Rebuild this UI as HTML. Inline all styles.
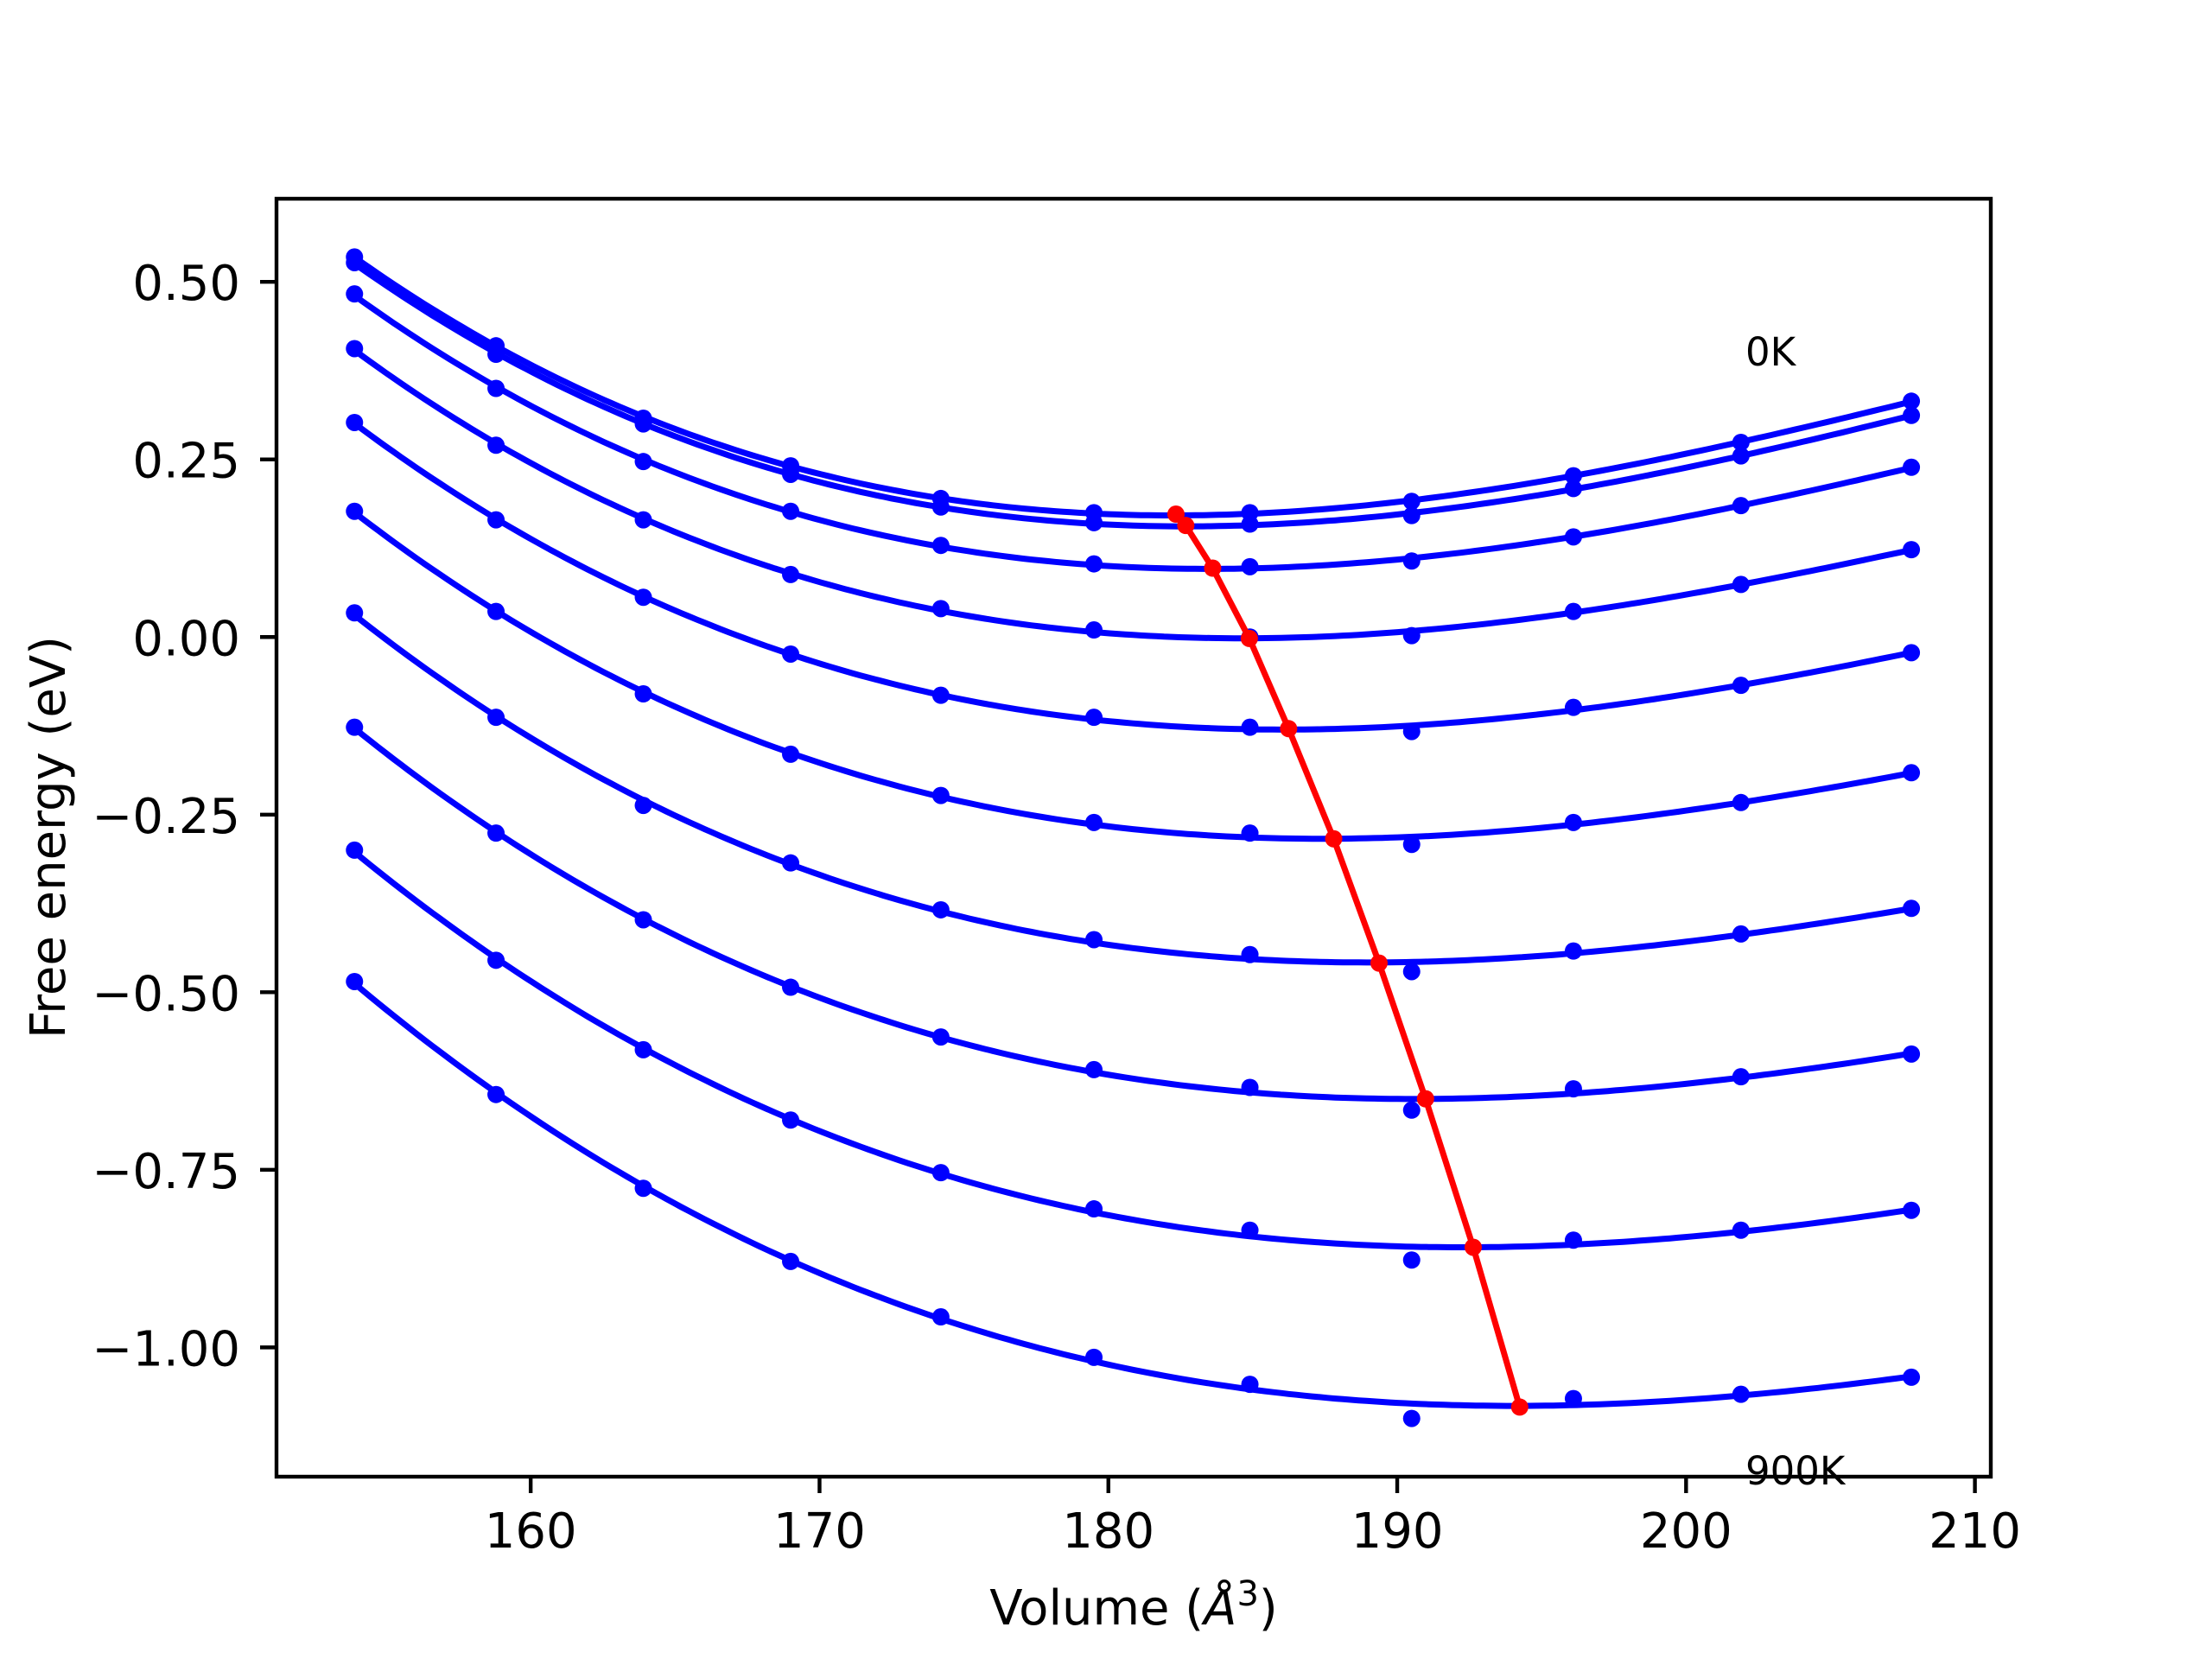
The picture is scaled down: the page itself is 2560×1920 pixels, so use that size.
<!DOCTYPE html>
<html><head><meta charset="utf-8"><style>
html,body{margin:0;padding:0;background:#fff;}
svg{display:block;font-family:"DejaVu Sans","Liberation Sans",sans-serif;}
</style></head><body>
<svg id="chart" width="2560" height="1920" viewBox="0 0 2560 1920" xmlns="http://www.w3.org/2000/svg">
<rect x="0" y="0" width="2560" height="1920" fill="#fff"/>
<g id="plot"></g>
<g id="axes"></g>
<text x="2020" y="423" font-size="45" fill="#000">0K</text>
<text x="2020" y="1718" font-size="45" fill="#000">900K</text>
<text x="1312" y="1880" font-size="56" text-anchor="middle" fill="#000">Volume (<tspan font-style="italic">Å</tspan><tspan dy="-22" font-size="40">3</tspan><tspan dy="22">)</tspan></text>
<text transform="translate(75,969) rotate(-90)" font-size="56" text-anchor="middle" fill="#000">Free energy (eV)</text>
</svg>
<script>
const volumes = [153.9, 158.8, 163.9, 169.0, 174.2, 179.5, 184.9, 190.5, 196.1, 201.9, 207.8];
const energy0K   = [0.535, 0.410, 0.308, 0.241, 0.195, 0.175, 0.175, 0.191, 0.227, 0.274, 0.332];
const energy100K = [0.527, 0.398, 0.300, 0.229, 0.183, 0.161, 0.159, 0.171, 0.209, 0.255, 0.312];
const energy200K = [0.483, 0.350, 0.247, 0.177, 0.129, 0.103, 0.099, 0.107, 0.141, 0.185, 0.239];
const energy300K = [0.406, 0.270, 0.165, 0.088, 0.040, 0.010, 0.000, 0.002, 0.036, 0.074, 0.123];
const energy400K = [0.302, 0.165, 0.056, -0.024, -0.082, -0.113, -0.127, -0.133, -0.099, -0.068, -0.022];
const energy500K = [0.177, 0.036, -0.080, -0.165, -0.223, -0.261, -0.276, -0.292, -0.261, -0.233, -0.191];
const energy600K = [0.034, -0.113, -0.237, -0.318, -0.384, -0.426, -0.447, -0.471, -0.442, -0.418, -0.382];
const energy700K = [-0.127, -0.276, -0.398, -0.493, -0.563, -0.609, -0.634, -0.666, -0.636, -0.619, -0.587];
const energy800K = [-0.300, -0.455, -0.581, -0.680, -0.754, -0.805, -0.835, -0.877, -0.849, -0.835, -0.807];
const energy900K = [-0.485, -0.644, -0.776, -0.879, -0.957, -1.014, -1.052, -1.100, -1.072, -1.066, -1.042];
const minVolumes = [182.34, 182.68, 183.61, 184.88, 186.24, 187.80, 189.37, 190.98, 192.63, 194.24];
const minEnergies = [0.173, 0.157, 0.097, -0.002, -0.129, -0.284, -0.459, -0.650, -0.859, -1.084];
const xTicks = [160, 170, 180, 190, 200, 210];
const yTicks = [0.50, 0.25, 0.00, -0.25, -0.50, -0.75, -1.00];
const yTickLabels = ["0.50", "0.25", "0.00", "\u22120.25", "\u22120.50", "\u22120.75", "\u22121.00"];

const series = [energy0K, energy100K, energy200K, energy300K, energy400K, energy500K, energy600K, energy700K, energy800K, energy900K];
const L = 320, R = 2304, T = 230, B = 1709;
const XMIN = 151.2, XMAX = 210.55, YMIN = -1.182, YMAX = 0.617;
const sx = v => L + (v - XMIN) / (XMAX - XMIN) * (R - L);
const sy = v => B - (v - YMIN) / (YMAX - YMIN) * (B - T);
const NS = "http://www.w3.org/2000/svg";
const plot = document.getElementById('plot');
const axes = document.getElementById('axes');
function mk(tag, attrs, parent) {
  const e = document.createElementNS(NS, tag);
  for (const k in attrs) e.setAttribute(k, attrs[k]);
  parent.appendChild(e);
  return e;
}
function cubicFit(xs, ys) {
  const m = xs.reduce((a, b) => a + b, 0) / xs.length;
  const n = 4, A = [], bv = [];
  for (let i = 0; i < n; i++) { A.push(new Array(n).fill(0)); bv.push(0); }
  xs.forEach((x, k) => {
    const t = x - m;
    const p = [1, t, t * t, t * t * t];
    for (let i = 0; i < n; i++) { bv[i] += p[i] * ys[k]; for (let j = 0; j < n; j++) A[i][j] += p[i] * p[j]; }
  });
  for (let i = 0; i < n; i++) {
    let piv = i;
    for (let r = i + 1; r < n; r++) if (Math.abs(A[r][i]) > Math.abs(A[piv][i])) piv = r;
    [A[i], A[piv]] = [A[piv], A[i]]; [bv[i], bv[piv]] = [bv[piv], bv[i]];
    for (let r = i + 1; r < n; r++) {
      const f = A[r][i] / A[i][i];
      for (let c = i; c < n; c++) A[r][c] -= f * A[i][c];
      bv[r] -= f * bv[i];
    }
  }
  const c = new Array(n).fill(0);
  for (let i = n - 1; i >= 0; i--) {
    let s = bv[i];
    for (let j = i + 1; j < n; j++) s -= A[i][j] * c[j];
    c[i] = s / A[i][i];
  }
  return x => { const t = x - m; return c[0] + c[1] * t + c[2] * t * t + c[3] * t * t * t; };
}
series.forEach((ys, si) => {
  const f = cubicFit(volumes, ys);
  const x0 = volumes[0], x1 = volumes[volumes.length - 1];
  let d = '';
  for (let i = 0; i <= 200; i++) {
    const x = x0 + (x1 - x0) * i / 200;
    d += (i ? 'L' : 'M') + sx(x).toFixed(1) + ',' + sy(f(x)).toFixed(1);
  }
  const p = mk('path', {d: d, fill: 'none', stroke: '#0000ff', 'stroke-width': 7, 'stroke-linejoin': 'round'}, plot);
  
  
  ys.forEach((y, i) => {
    const c = mk('circle', {cx: sx(volumes[i]), cy: sy(y), r: 10, fill: '#0000ff'}, plot);
    
    
  });
});
let rd = '';
minVolumes.forEach((x, i) => { rd += (i ? 'L' : 'M') + sx(x).toFixed(1) + ',' + sy(minEnergies[i]).toFixed(1); });
const rl = mk('path', {d: rd, fill: 'none', stroke: '#ff0000', 'stroke-width': 7, 'stroke-linejoin': 'round'}, plot);


minVolumes.forEach((x, i) => {
  const c = mk('circle', {cx: sx(x), cy: sy(minEnergies[i]), r: 10, fill: '#ff0000'}, plot);
  
  
});
const frame = mk('rect', {x: L, y: T, width: R - L, height: B - T, fill: 'none', stroke: '#000', 'stroke-width': 4.4}, axes);


xTicks.forEach(v => {
  const x = sx(v);
  const t = mk('line', {x1: x, x2: x, y1: B, y2: B + 19, stroke: '#000', 'stroke-width': 4.4}, axes);
  
  
  const lb = mk('text', {x: x, y: B + 82, 'font-size': 56, 'text-anchor': 'middle', fill: '#000'}, axes);
  lb.textContent = v;
  
  
});
yTicks.forEach((v, i) => {
  const y = sy(v);
  const t = mk('line', {x1: L - 19, x2: L, y1: y, y2: y, stroke: '#000', 'stroke-width': 4.4}, axes);
  
  
  const lb = mk('text', {x: 278, y: y + 21, 'font-size': 56, 'text-anchor': 'end', fill: '#000'}, axes);
  lb.textContent = yTickLabels[i];
  
  
});
</script>
</body></html>
